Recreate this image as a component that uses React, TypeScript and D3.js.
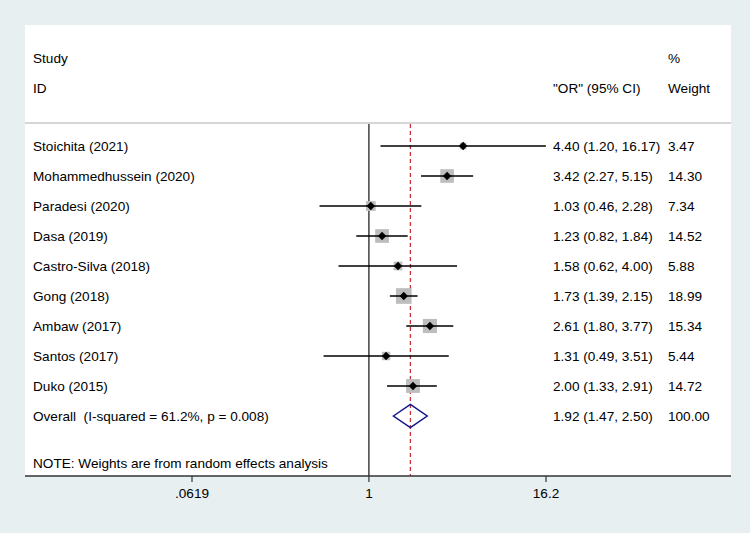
import React from "react";
import * as d3 from "d3";

const studies = [
  "Stoichita (2021)",
  "Mohammedhussein (2020)",
  "Paradesi (2020)",
  "Dasa (2019)",
  "Castro-Silva (2018)",
  "Gong (2018)",
  "Ambaw (2017)",
  "Santos (2017)",
  "Duko (2015)",
];
const orValues = [4.4, 3.42, 1.03, 1.23, 1.58, 1.73, 2.61, 1.31, 2.0];
const ciLow = [1.2, 2.27, 0.46, 0.82, 0.62, 1.39, 1.8, 0.49, 1.33];
const ciHigh = [16.17, 5.15, 2.28, 1.84, 4.0, 2.15, 3.77, 3.51, 2.91];
const weights = [3.47, 14.3, 7.34, 14.52, 5.88, 18.99, 15.34, 5.44, 14.72];

const overallLabel = "Overall  (I-squared = 61.2%, p = 0.008)";
const overallOR = 1.92;
const overallLow = 1.47;
const overallHigh = 2.5;
const overallWeight = 100.0;

const tickValues = [0.0619, 1, 16.2];
const tickLabels = [".0619", "1", "16.2"];
const noteText = "NOTE: Weights are from random effects analysis";

const W = 750;
const H = 533;
const FONT = "'Liberation Sans', Arial, Helvetica, sans-serif";
const FS = 13.6;

export default function App() {
  const x = d3.scaleLog().domain([0.0619, 16.2]).range([192, 546]);
  const y = d3.scaleLinear().domain([0, 1]).range([146, 176]);
  const panel = { left: 25, right: 731, top: 25, bottom: 476 };
  const sepY = 123;
  const labelX = 33;
  const orX = 553;
  const wX = 668;
  const sq = (w: number) => 3.6 * Math.sqrt(w);
  const fmt = (v: number) => v.toFixed(2);
  const overallY = y(studies.length);
  const xMax = x.range()[1];

  return (
    <svg
      width={W}
      height={H}
      style={{ position: "absolute", left: 0, top: 0, fontFamily: FONT }}
    >
      <rect x={0} y={0} width={W} height={H} fill="#e7eff1" />
      <rect
        x={panel.left}
        y={panel.top}
        width={panel.right - panel.left}
        height={panel.bottom - panel.top}
        fill="#ffffff"
      />
      {/* header */}
      <g fontSize={FS} fill="#000">
        <text x={labelX} y={58} dominantBaseline="central">Study</text>
        <text x={labelX} y={88} dominantBaseline="central">ID</text>
        <text x={orX} y={88} dominantBaseline="central">"OR" (95% CI)</text>
        <text x={wX} y={58} dominantBaseline="central">%</text>
        <text x={wX} y={88} dominantBaseline="central">Weight</text>
      </g>
      <line
        x1={panel.left}
        x2={panel.right}
        y1={sepY}
        y2={sepY}
        stroke="#d6d6d6"
        strokeWidth={2}
      />
      {/* null line */}
      <line
        x1={x(1)}
        x2={x(1)}
        y1={sepY + 1}
        y2={panel.bottom}
        stroke="#222"
        strokeWidth={1.3}
      />
      {/* overall dashed line */}
      <line
        x1={x(overallOR)}
        x2={x(overallOR)}
        y1={sepY + 1}
        y2={panel.bottom}
        stroke="#c8323c"
        strokeWidth={1.3}
        strokeDasharray="4,3"
      />
      {/* studies */}
      {studies.map((s, i) => {
        const cy = y(i);
        const hiClipped = ciHigh[i] > 16.2;
        const x1 = x(Math.max(ciLow[i], 0.0619));
        const x2 = hiClipped ? xMax : x(ciHigh[i]);
        const cx = x(orValues[i]);
        const side = sq(weights[i]);
        const m = 4.2;
        return (
          <g key={s}>
            <rect
              x={cx - side / 2}
              y={cy - side / 2}
              width={side}
              height={side}
              fill="#bdbdbd"
            />
            <line x1={x1} x2={x2} y1={cy} y2={cy} stroke="#000" strokeWidth={1.5} />
            {hiClipped && (
              <polyline
                points={`${x2 - 8},${cy - 8} ${x2},${cy} ${x2 - 8},${cy + 8}`}
                fill="none"
                stroke="#000"
                strokeWidth={1.4}
              />
            )}
            <path
              d={`M${cx},${cy - m} L${cx + m},${cy} L${cx},${cy + m} L${cx - m},${cy} Z`}
              fill="#000"
            />
            <text x={labelX} y={cy} fontSize={FS} dominantBaseline="central">
              {s}
            </text>
            <text x={orX} y={cy} fontSize={FS} dominantBaseline="central">
              {`${fmt(orValues[i])} (${fmt(ciLow[i])}, ${fmt(ciHigh[i])})`}
            </text>
            <text x={wX} y={cy} fontSize={FS} dominantBaseline="central">
              {fmt(weights[i])}
            </text>
          </g>
        );
      })}
      {/* overall */}
      <path
        d={`M${x(overallLow)},${overallY} L${x(overallOR)},${overallY - 11.5} L${x(
          overallHigh
        )},${overallY} L${x(overallOR)},${overallY + 11.5} Z`}
        fill="none"
        stroke="#14148c"
        strokeWidth={1.5}
      />
      <text
        x={labelX}
        y={overallY}
        fontSize={FS}
        dominantBaseline="central"
        style={{ whiteSpace: "pre" }}
      >
        {overallLabel}
      </text>
      <text x={orX} y={overallY} fontSize={FS} dominantBaseline="central">
        {`${fmt(overallOR)} (${fmt(overallLow)}, ${fmt(overallHigh)})`}
      </text>
      <text x={wX} y={overallY} fontSize={FS} dominantBaseline="central">
        {fmt(overallWeight)}
      </text>
      <text x={labelX} y={463} fontSize={FS} dominantBaseline="central">
        {noteText}
      </text>
      {/* axis */}
      <line
        x1={panel.left}
        x2={panel.right}
        y1={panel.bottom}
        y2={panel.bottom}
        stroke="#333"
        strokeWidth={1.5}
      />
      {tickValues.map((t, i) => (
        <g key={t}>
          <line
            x1={x(t)}
            x2={x(t)}
            y1={panel.bottom}
            y2={panel.bottom + 6}
            stroke="#333"
            strokeWidth={1.2}
          />
          <text
            x={x(t)}
            y={493}
            fontSize={FS}
            textAnchor="middle"
            dominantBaseline="central"
          >
            {tickLabels[i]}
          </text>
        </g>
      ))}
    </svg>
  );
}
